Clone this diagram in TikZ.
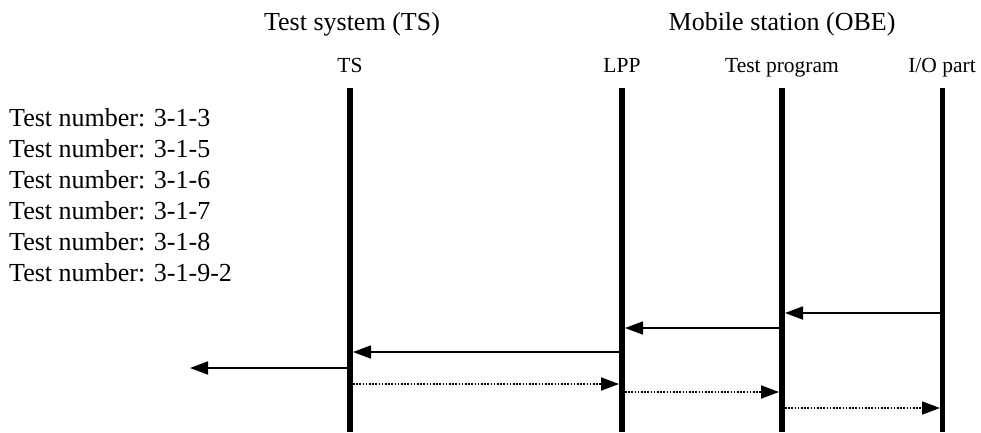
\documentclass[tikz,border=0pt]{standalone}
\usepackage{fontspec}
\setmainfont{Liberation Serif}
\usetikzlibrary{arrows.meta}

\begin{document}
\begin{tikzpicture}[x=1pt,y=-1pt,
  every node/.style={inner sep=0pt},
  lifeline/.style={line width=6pt},
  msg/.style={line width=1.8pt,-{Triangle[length=18pt,width=13pt]}},
  ret/.style={msg,dash pattern=on 1.6pt off 1.6pt},
  head/.style={anchor=base,font=\fontsize{26}{30}\selectfont},
  tag/.style={anchor=base,font=\fontsize{21.5}{25}\selectfont},
  test/.style={anchor=base west,font=\fontsize{26}{30}\selectfont}]
\useasboundingbox (0,0) rectangle (981,432);
% lifeline heads
\node[tag] (ts) at (350,72) {TS};
\node[tag] (lpp) at (622,72) {LPP};
\node[tag] (prog) at (782,72) {Test program};
\node[tag] (io) at (942,72) {I/O part};
% sides
\node[head] (side-ts) at (352,30) {Test system (TS)};
\node[head] (side-obe) at (782,30) {Mobile station (OBE)};
\foreach \l in {ts,lpp,prog}
  \draw[lifeline] (\l.south |- 0,88) -- (\l.south |- 0,432);
\draw[lifeline,line width=5pt] (io.south |- 0,88) -- (io.south |- 0,432);
% test numbers
\foreach \n [count=\i] in {3-1-3,3-1-5,3-1-6,3-1-7,3-1-8,3-1-9-2}
  \node[test] (tn\i) at (9,95+31*\i) {Test number: \n};
% messages
\coordinate (m1a) at (io |- 0,313);
\coordinate (m1b) at ([xshift=3pt]prog |- 0,313);
\coordinate (m2a) at (prog |- 0,328);
\coordinate (m2b) at ([xshift=3pt]lpp |- 0,328);
\coordinate (m3a) at (lpp |- 0,352);
\coordinate (m3b) at ([xshift=3pt]ts |- 0,352);
\coordinate (m4a) at (ts |- 0,368);
\coordinate (out) at (190,368);
\draw[msg] (m1a) -- (m1b);
\draw[msg] (m2a) -- (m2b);
\draw[msg] (m3a) -- (m3b);
\draw[msg] (m4a) -- (out);
% replies
\coordinate (r1a) at ([xshift=3pt]ts |- 0,384);
\coordinate (r1b) at ([xshift=-3pt]lpp |- 0,384);
\coordinate (r2a) at ([xshift=3pt]lpp |- 0,392);
\coordinate (r2b) at ([xshift=-3pt]prog |- 0,392);
\coordinate (r3a) at ([xshift=3pt]prog |- 0,408);
\coordinate (r3b) at ([xshift=-2pt]io |- 0,408);
\draw[ret] (r1a) -- (r1b);
\draw[ret] (r2a) -- (r2b);
\draw[ret] (r3a) -- (r3b);
\end{tikzpicture}
\end{document}
